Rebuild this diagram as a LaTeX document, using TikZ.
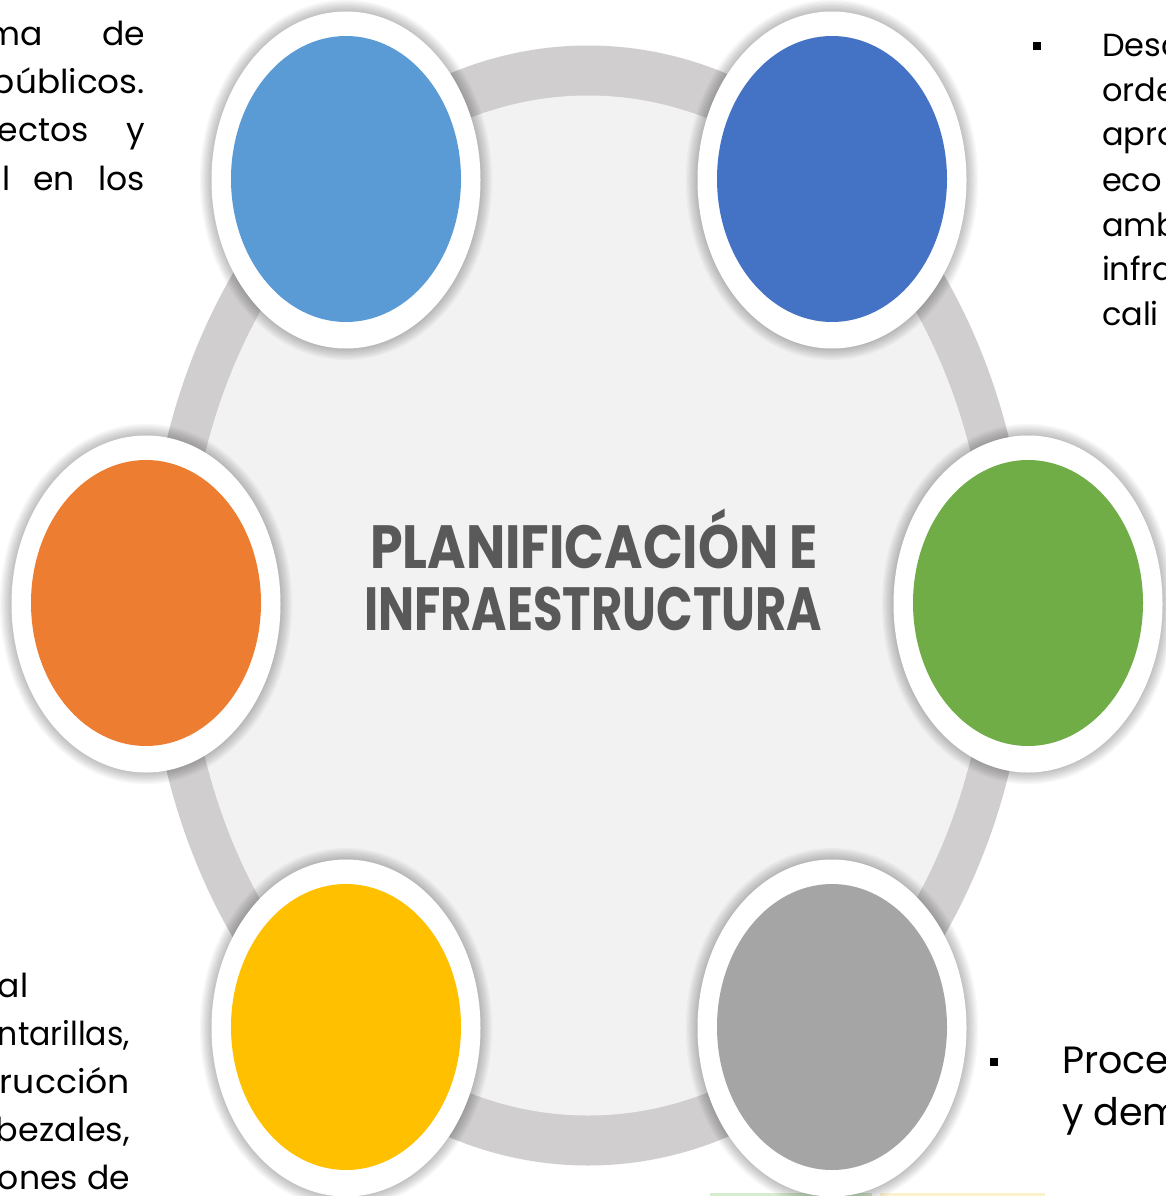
\documentclass[tikz,border=0pt]{standalone}
\usepackage{fontspec}
\usepackage{graphicx}
\setmainfont{Poppins}
\usetikzlibrary{shapes.geometric}
\definecolor{ringc}{HTML}{D0CECE}
\definecolor{hubc}{HTML}{F2F2F2}
\definecolor{titlec}{HTML}{595959}
\definecolor{cblueL}{HTML}{5B9BD5}
\definecolor{cblueD}{HTML}{4472C4}
\definecolor{cgreen}{HTML}{70AD47}
\definecolor{cgrey}{HTML}{A5A5A5}
\definecolor{cgold}{HTML}{FFC000}
\definecolor{corange}{HTML}{ED7D31}
\definecolor{stripg}{HTML}{D6ECCF}
\definecolor{stripy}{HTML}{FBF1CC}
\newcommand\fitw[2]{\resizebox{#1}{\height}{#2}}
\begin{document}
\begin{tikzpicture}[x=1pt,y=-1pt,
  oval/.style={ellipse, inner sep=0pt, outer sep=0pt, draw=none},
  whiteoval/.style={oval, fill=white, minimum width=269pt, minimum height=337pt},
  coloval/.style={oval, fill=#1, minimum width=230pt, minimum height=286pt},
  body/.style={inner sep=0pt, outer sep=0pt, text=black, font=\fontsize{33}{48}\selectfont},
  bodyr/.style={inner sep=0pt, outer sep=0pt, text=black, font=\fontsize{32}{44}\selectfont},
  bodyb/.style={inner sep=0pt, outer sep=0pt, text=black, font=\fontsize{38}{52}\selectfont},
  bulletsq/.style={rectangle, fill=black, inner sep=0pt, minimum size=8pt},
  titletxt/.style={inner sep=0pt, text=titlec, font=\bfseries\fontsize{61}{62}\selectfont}]
\useasboundingbox (0,0) rectangle (1166,1196);
\fill[white] (0,0) rectangle (1166,1196);
\begin{scope}
\clip (0,0) rectangle (1166,1196);
% faint strips at bottom edge
\fill[stripg] (710,1193) rectangle (872,1196);
\fill[stripy] (880,1193) rectangle (1045,1196);
% ring and hub
\node[oval, fill=ringc, minimum width=882pt, minimum height=1120pt] (ring) at (588,605.5) {};
\node[oval, fill=hubc, minimum width=802pt, minimum height=1020pt] (hub) at (588,605.5) {};
% soft shadows
\foreach \cx/\cy in {346/180, 832/180, 1028/604, 832/1028, 346/1028, 146/604}{
  \foreach \i in {1,...,9}{
    \fill[black, opacity=0.028] (\cx,\cy) ellipse [x radius={134.5+1.3*\i}, y radius={168.5+1.3*\i}];
  }
}
% white rims
\node[whiteoval] (w1) at (346,180) {};
\node[whiteoval] (w2) at (832,180) {};
\node[whiteoval] (w3) at (1028,604) {};
\node[whiteoval] (w4) at (832,1028) {};
\node[whiteoval] (w5) at (346,1028) {};
\node[whiteoval] (w6) at (146,604) {};
% coloured discs
\node[coloval=cblueL] (c1) at (346,179) {};
\node[coloval=cblueD] (c2) at (832,179) {};
\node[coloval=cgreen] (c3) at (1028,603) {};
\node[coloval=cgrey] (c4) at (832,1027) {};
\node[coloval=cgold] (c5) at (346,1027) {};
\node[coloval=corange] (c6) at (146,603) {};
% title
\node[titletxt, anchor=base] (t1) at (594,568) {\fitw{448pt}{PLANIFICACIÓN E}};
\node[titletxt, anchor=base] (t2) at (593,630) {\fitw{458pt}{INFRAESTRUCTURA}};
% top-left text
\node[body, anchor=base east] (tl1) at (145,46) {\makebox[158pt][s]{ma de}};
\node[body, anchor=base east] (tl2) at (145,94) {\fitw{153pt}{públicos.}};
\node[body, anchor=base east] (tl3) at (145,142) {\makebox[147pt][s]{ectos y}};
\node[body, anchor=base east] (tl4) at (145,190) {\makebox[143pt][s]{l en los}};
% bottom-left text
\node[body, anchor=base west] (bl1) at (-2,997) {al};
\node[body, anchor=base east] (bl2) at (130,1045) {\fitw{132pt}{ntarillas,}};
\node[body, anchor=base east] (bl3) at (130,1093) {\fitw{130pt}{rucción}};
\node[body, anchor=base east] (bl4) at (130,1141) {\fitw{134pt}{bezales,}};
\node[body, anchor=base east] (bl5) at (130,1189) {\makebox[132pt][s]{ones de}};
% top-right text
\node[bulletsq] (b1) at (1037,46) {};
\node[bodyr, anchor=base west] (tr1) at (1102,57) {Desc};
\node[bodyr, anchor=base west] (tr2) at (1102,102) {orde};
\node[bodyr, anchor=base west] (tr3) at (1102,146) {apro};
\node[bodyr, anchor=base west] (tr4) at (1102,191) {eco};
\node[bodyr, anchor=base west] (tr5) at (1102,236) {amb};
\node[bodyr, anchor=base west] (tr6) at (1102,280) {infra};
\node[bodyr, anchor=base west] (tr7) at (1102,325) {cali};
% bottom-right text
\node[bulletsq] (b2) at (994,1062) {};
\node[bodyb, anchor=base west] (br1) at (1062,1073) {Proce};
\node[bodyb, anchor=base west] (br2) at (1062,1125) {y dem};
\end{scope}
\end{tikzpicture}
\end{document}
